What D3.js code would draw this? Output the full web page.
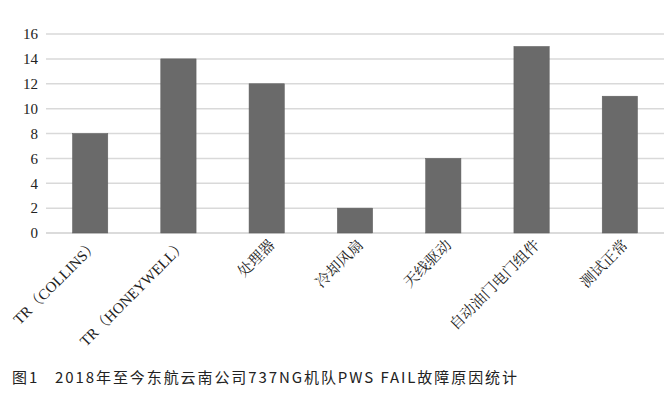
<!DOCTYPE html>
<html><head><meta charset="utf-8">
<script src="https://cdn.jsdelivr.net/npm/d3@7"></script>
<style>body{margin:0;background:#fff}svg{display:block}
.serif text{font-family:'Liberation Serif','Times New Roman','Noto Serif CJK SC','Noto Sans CJK SC',serif !important}</style>
</head><body>
<script>
const categories = ["TR（COLLINS）","TR（HONEYWELL）","处理器","冷却风扇","天线驱动","自动油门电门组件","测试正常"];
const values = [8,14,12,2,6,15,11];
const yTicks = [0,2,4,6,8,10,12,14,16];
const caption = "图1\u00a0\u00a0\u00a02018年至今东航云南公司737NG机队PWS FAIL故障原因统计";

(function(){
const W=669,H=408;
const svg=d3.select("body").append("svg").attr("width",W).attr("height",H);
const mLeft=46,mRight=664,mTop=34,mBottom=233;
const x=d3.scaleBand().domain(categories).range([mLeft,mRight]).paddingInner(0.6).paddingOuter(0.3);
const y=d3.scaleLinear().domain([0,16]).range([mBottom,mTop]);

const g=svg.append("g");
g.selectAll("line.grid").data(yTicks).join("line")
 .attr("x1",mLeft).attr("x2",mRight).attr("y1",d=>y(d)).attr("y2",d=>y(d))
 .attr("stroke",d=>d===0?"#cfcfcf":"#d9d9d9").attr("stroke-width",1.5);

const yAxis=d3.axisLeft(y).tickValues(yTicks).tickSize(0).tickPadding(8);
const ya=svg.append("g").attr("class","serif").attr("transform",`translate(${mLeft},0)`).call(yAxis);
ya.select(".domain").remove();
ya.selectAll("text").attr("font-size",15).attr("fill","#222");

g.selectAll("rect").data(values).join("rect")
 .attr("x",(d,i)=>x(categories[i])).attr("width",x.bandwidth())
 .attr("y",d=>y(d)).attr("height",d=>y(0)-y(d))
 .attr("fill","#6a6a6a").attr("stroke","#5e5e5e").attr("stroke-width",0.5);

const xAxis=d3.axisBottom(x).tickSize(0).tickPadding(0);
const xa=svg.append("g").attr("class","serif").attr("transform",`translate(0,${mBottom})`).call(xAxis);
xa.select(".domain").remove();
xa.selectAll("text").attr("font-size",15).attr("fill","#222")
 .attr("text-anchor","end").attr("dy",null).attr("y",0)
 .attr("transform","translate(9,13) rotate(-45)");

svg.append("text").attr("x",12).attr("y",383)
 .attr("font-family","'Noto Sans CJK SC','DejaVu Sans Mono',monospace").attr("font-size",15)
 .attr("textLength",505).attr("lengthAdjust","spacing")
 .attr("fill","#222").text(caption);
})();
</script>
</body></html>
